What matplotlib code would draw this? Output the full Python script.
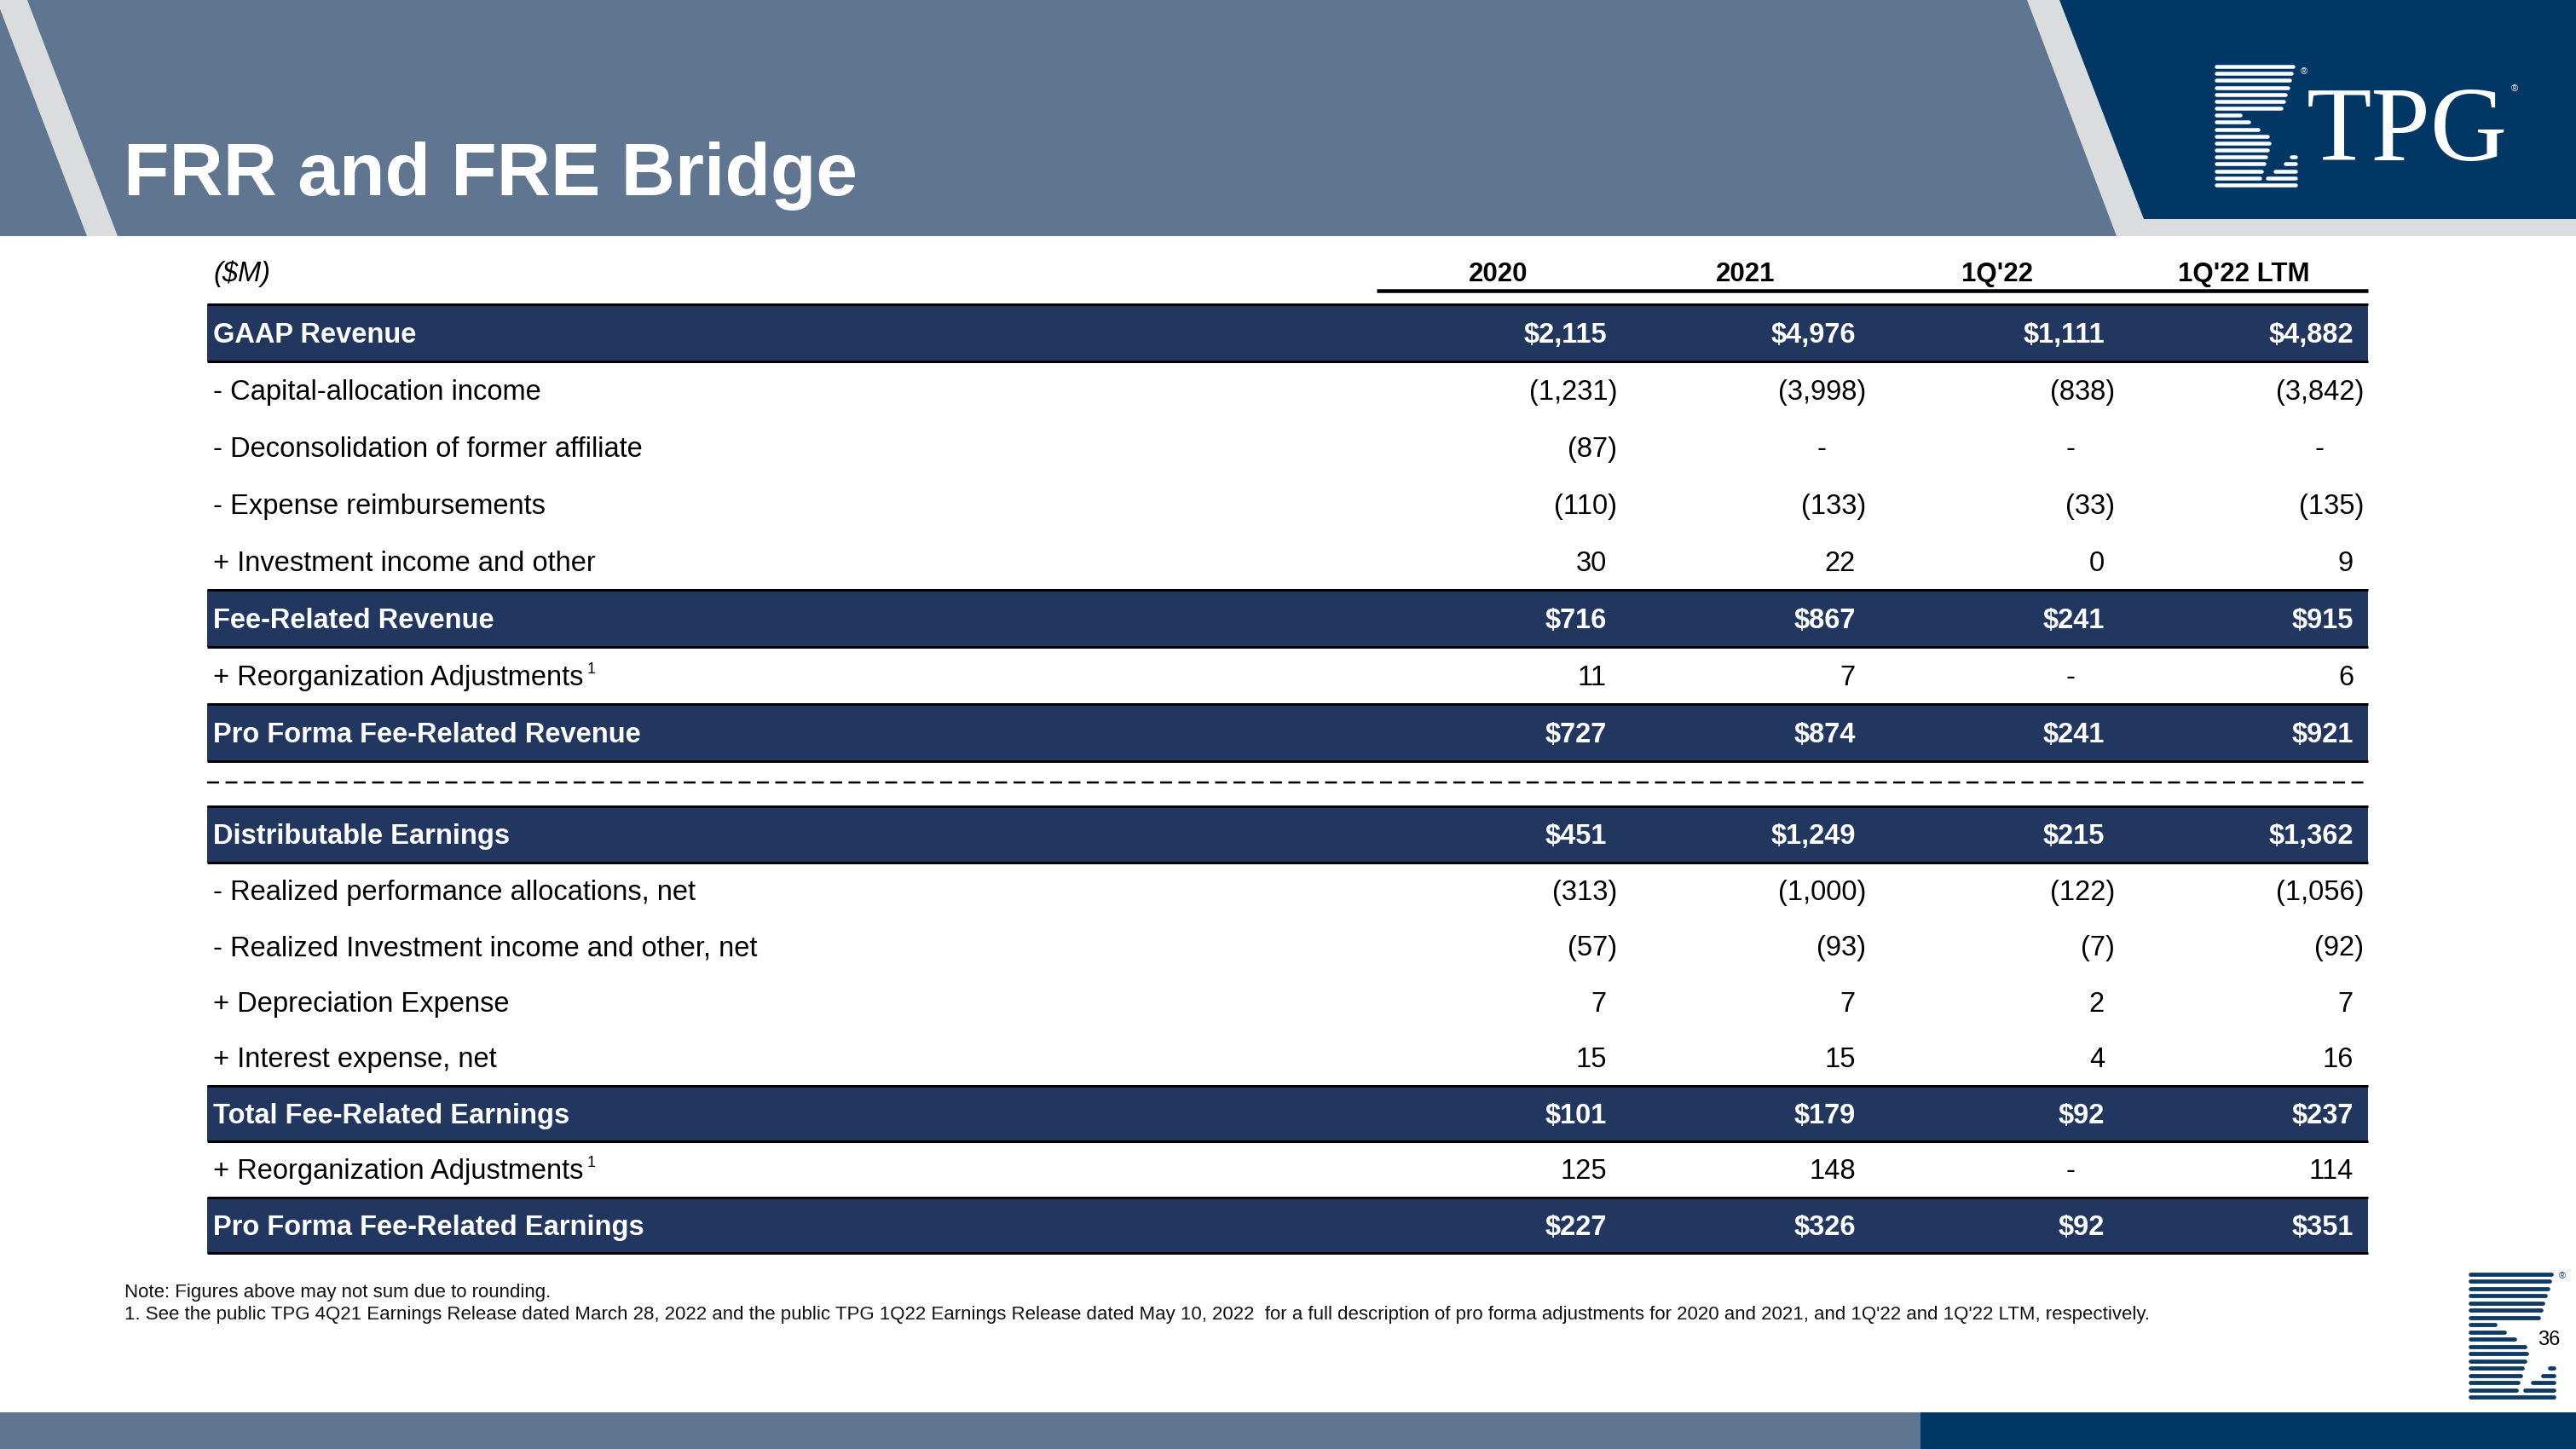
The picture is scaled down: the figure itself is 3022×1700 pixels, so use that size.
import matplotlib
matplotlib.use("Agg")
import matplotlib.pyplot as plt
from matplotlib.patches import Polygon, Rectangle

plt.rcParams['font.family'] = ['Liberation Sans', 'DejaVu Sans']

# ---------------- data ----------------
columns = ["2020", "2021", "1Q'22", "1Q'22 LTM"]

frr_labels = ["GAAP Revenue", "- Capital-allocation income", "- Deconsolidation of former affiliate",
              "- Expense reimbursements", "+ Investment income and other", "Fee-Related Revenue",
              "+ Reorganization Adjustments", "Pro Forma Fee-Related Revenue"]
frr_band = [True, False, False, False, False, True, False, True]
frr_note = [None, None, None, None, None, None, "1", None]
frr_2020 = [2115, -1231, -87, -110, 30, 716, 11, 727]
frr_2021 = [4976, -3998, None, -133, 22, 867, 7, 874]
frr_1q22 = [1111, -838, None, -33, 0, 241, None, 241]
frr_ltm = [4882, -3842, None, -135, 9, 915, 6, 921]

fre_labels = ["Distributable Earnings", "- Realized performance allocations, net",
              "- Realized Investment income and other, net", "+ Depreciation Expense",
              "+ Interest expense, net", "Total Fee-Related Earnings",
              "+ Reorganization Adjustments", "Pro Forma Fee-Related Earnings"]
fre_band = [True, False, False, False, False, True, False, True]
fre_note = [None, None, None, None, None, None, "1", None]
fre_2020 = [451, -313, -57, 7, 15, 101, 125, 227]
fre_2021 = [1249, -1000, -93, 7, 15, 179, 148, 326]
fre_1q22 = [215, -122, -7, 2, 4, 92, None, 92]
fre_ltm = [1362, -1056, -92, 7, 16, 237, 114, 351]

title = "FRR and FRE Bridge"
unit_label = "($M)"
note_lines = ["Note: Figures above may not sum due to rounding.",
              "1. See the public TPG 4Q21 Earnings Release dated March 28, 2022 and the public TPG 1Q22 Earnings "
              "Release dated May 10, 2022  for a full description of pro forma adjustments for 2020 and 2021, "
              "and 1Q'22 and 1Q'22 LTM, respectively."]
page_number = "36"

# ---------------- style ----------------
GREY = "#5F7590"
LIGHT = "#DADCDE"
BLUE = "#003764"
BAND = "#22375F"
W, H = 3022, 1700
PX = 0.72  # points per pixel at dpi 100

fig = plt.figure(figsize=(W / 100, H / 100), dpi=100)
ax = fig.add_axes([0, 0, 1, 1])
ax.set_xlim(0, W)
ax.set_ylim(H, 0)
ax.axis('off')

# header
ax.add_patch(Rectangle((0, 0), W, 277, facecolor=GREY, edgecolor='none'))
ax.add_patch(Polygon([(-4, 0), (32, 0), (138, 277), (102, 277)], closed=True, facecolor=LIGHT, edgecolor='none'))
ax.add_patch(Polygon([(2378, 0), (W, 0), (W, 277), (2483, 277)], closed=True, facecolor=LIGHT, edgecolor='none'))
ax.add_patch(Polygon([(2416, 0), (W, 0), (W, 257), (2515, 257)], closed=True, facecolor=BLUE, edgecolor='none'))
ax.text(145, 229, title, fontsize=63, fontweight='bold', color='white', ha='left', va='baseline')

# logo stripes (decorative)
left_ends = [0.97, 0.95, 0.93, 0.90, 0.87, 0.85, 0.82, 0.30, 0.41, 0.53, 0.65, 0.67, 0.65, 0.625, 0.60, 0.575, 0.55, 1.0]
right_starts = [None] * 13 + [0.95, 0.87, 0.74, 0.65, None]


def draw_logo(x0, y0, w, h, color, lw):
    n = len(left_ends)
    for i in range(n):
        y = y0 + h * i / (n - 1)
        ax.plot([x0, x0 + w * left_ends[i]], [y, y], color=color, lw=lw, solid_capstyle='round')
        if right_starts[i] is not None:
            ax.plot([x0 + w * right_starts[i], x0 + w], [y, y], color=color, lw=lw, solid_capstyle='round')


draw_logo(2600, 78, 93, 139, 'white', 4.5 * PX)
ax.text(2699, 84, "®", fontsize=8, color='white', ha='left', va='center')
ax.text(2706, 188, "TPG", fontsize=90, family='Liberation Serif', color='white', ha='left', va='baseline')
ax.text(2946, 104, "®", fontsize=8, color='white', ha='left', va='center')

# ---------------- table ----------------
col_right = [1885, 2177, 2469, 2761]
col_center = [1758, 2048, 2343, 2632]
label_x = 250
band_x0, band_x1 = 243, 2778
FS = 23.5
base_off = 0.358 * FS / PX

ax.text(label_x, 330, unit_label, fontsize=FS, style='italic', ha='left', va='baseline', color='black')
for c, lab in zip(col_center, columns):
    ax.text(c, 330, lab, fontsize=22.5, fontweight='bold', ha='center', va='baseline', color='black')
ax.plot([1615, band_x1], [341, 341], color='black', lw=4.5 * PX, solid_capstyle='butt')

fig.canvas.draw()
renderer = fig.canvas.get_renderer()


def fmt(v, band):
    if v is None:
        return "-"
    if v < 0:
        return f"({abs(v):,})"
    return ("$" if band else "") + f"{v:,}"


def draw_section(top, pitch, labels, bands, notes, cols):
    for i, lab in enumerate(labels):
        y0 = top + pitch * i
        yc = y0 + pitch / 2
        yb = yc + base_off
        band = bands[i]
        color = 'white' if band else 'black'
        weight = 'bold' if band else 'normal'
        if band:
            ax.add_patch(Rectangle((band_x0, y0), band_x1 - band_x0, pitch, facecolor=BAND, edgecolor='none'))
            ax.plot([band_x0, band_x1], [y0, y0], color='black', lw=3 * PX, solid_capstyle='butt')
            ax.plot([band_x0, band_x1], [y0 + pitch, y0 + pitch], color='black', lw=3 * PX, solid_capstyle='butt')
        t = ax.text(label_x, yb, lab, fontsize=FS, fontweight=weight, color=color, ha='left', va='baseline')
        if notes[i]:
            bb = t.get_window_extent(renderer)
            ax.text(bb.x1 + 4, yb - 14, notes[i], fontsize=13, color=color, ha='left', va='baseline')
        for j, series in enumerate(cols):
            v = series[i]
            s = fmt(v, band)
            if v is None:
                ax.text(col_right[j] - 40, yb, s, fontsize=FS, color=color, ha='center', va='baseline')
            elif v < 0:
                ax.text(col_right[j] + 12, yb, s, fontsize=FS, fontweight=weight, color=color, ha='right', va='baseline')
            else:
                ax.text(col_right[j], yb, s, fontsize=FS, fontweight=weight, color=color, ha='right', va='baseline')


draw_section(357, 67.0, frr_labels, frr_band, frr_note, [frr_2020, frr_2021, frr_1q22, frr_ltm])
ax.plot([band_x0, band_x1], [918, 918], color='black', lw=2.5 * PX, linestyle=(0, (14 / 2.5, 7.5 / 2.5)))
draw_section(946, 65.5, fre_labels, fre_band, fre_note, [fre_2020, fre_2021, fre_1q22, fre_ltm])

# footnotes
ax.text(146, 1522, note_lines[0], fontsize=16, color='#111111', ha='left', va='baseline')
ax.text(146, 1548, note_lines[1], fontsize=16, color='#111111', ha='left', va='baseline')

# bottom right logo and page number
draw_logo(2898, 1495, 98, 144, '#0E3A63', 4.8 * PX)
ax.text(3002, 1497, "®", fontsize=8, color='#0E3A63', ha='left', va='center')
ax.text(2990, 1578, page_number, fontsize=17, color='black', ha='center', va='baseline')

# bottom bar
ax.add_patch(Rectangle((0, 1657), 2253, H - 1657, facecolor=GREY, edgecolor='none'))
ax.add_patch(Rectangle((2253, 1657), W - 2253, H - 1657, facecolor=BLUE, edgecolor='none'))

fig.savefig("out.png", dpi=100)
